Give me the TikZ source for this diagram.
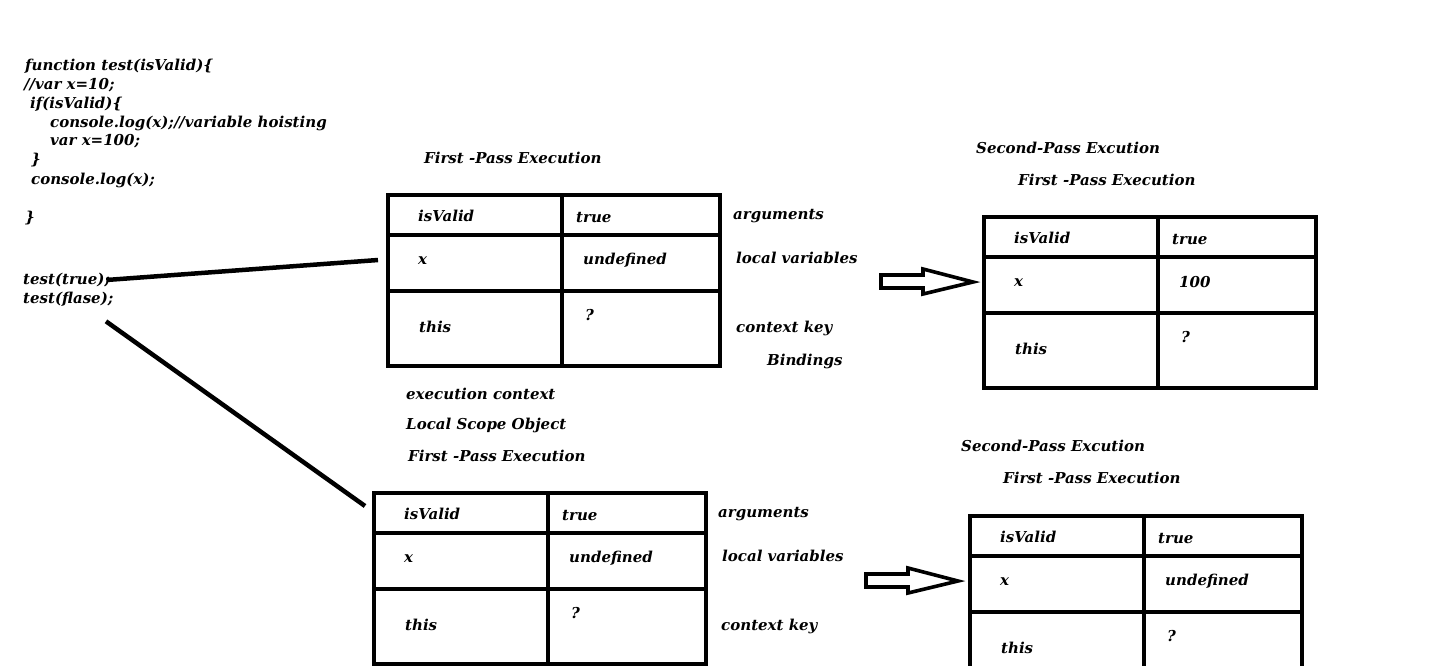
\documentclass[tikz,border=0pt]{standalone}
\usepackage{fontspec}
\setmainfont{DejaVu Serif}
\usetikzlibrary{calc}

\begin{document}
\begin{tikzpicture}[x=1pt,y=-1pt,
 font=\bfseries\itshape\fontsize{15}{18}\selectfont,
 txt/.style={anchor=west,inner sep=0pt},
 frm/.style={draw=black,line width=4.5pt},
 link/.style={line width=4.5pt,black},
 hollow/.style={draw=black,line width=3.6pt,fill=white,line join=miter}]
\useasboundingbox (0,0) rectangle (1448,665);
% code of the function
\node[txt] (fhead) at (25,66) {function test(isValid)\{};
\node[txt] (fvar) at (24,85) {//var x=10;};
\node[txt] (fif) at (30,104) {if(isValid)\{};
\node[txt] (flog) at (50,123) {console.log(x);//variable hoisting};
\node[txt] (fdecl) at (50,141) {var x=100;};
\node[txt] (fifend) at (31,160) {\}};
\node[txt] (flog2) at (31,180) {console.log(x);};
\node[txt] (fend) at (25,218) {\}};
\node[txt] (tcall) at (23,280) {test(true);};
\node[txt] (fcall) at (23,299) {test(flase);};
% the four scope tables
\foreach \nm/\tx/\ty/\val in {ta/388/195/undefined,tb/984/217/100,tc/374/493/undefined,td/970/516/undefined}{
 \begin{scope}[shift={(\tx,\ty)}]
 \draw[frm] (0,0) rectangle (332,171);
 \draw[frm] (174,0)--(174,171);
 \draw[frm] (0,40)--(332,40) (0,96)--(332,96);
 \node[txt] (\nm-key) at (30,21) {isValid};
 \node[txt] (\nm-arg) at (188,22) {true};
 \node[txt] (\nm-var) at (30,66) {x};
 \node[txt] (\nm-val) at (195,65) {\val};
 \node[txt] (\nm-this) at (31,132) {this};
 \node[txt] (\nm-ctx) at (197,120) {?};
 \coordinate (\nm-in) at (-10,65);
 \coordinate (\nm-top) at (-9,13);
 \end{scope}}
% headings
\node[txt] (h1) at (424,158) {First -Pass Execution};
\node[txt] (h2) at (976,148) {Second-Pass Excution};
\node[txt] (h3) at (1018,180) {First -Pass Execution};
\node[txt] (h4) at (406,394) {execution context};
\node[txt] (h5) at (406,425) {Local Scope Object};
\node[txt] (h6) at (408,456) {First -Pass Execution};
\node[txt] (h7) at (961,446) {Second-Pass Excution};
\node[txt] (h8) at (1003,478) {First -Pass Execution};
% side notes
\node[txt] (ta-n1) at (733,216) {arguments};
\node[txt] (ta-n2) at (736,258) {local variables};
\node[txt] (ta-n3) at (736,328) {context key};
\node[txt] (ta-n4) at (767,361) {Bindings};
\node[txt] (tc-n1) at (718,514) {arguments};
\node[txt] (tc-n2) at (722,556) {local variables};
\node[txt] (tc-n3) at (721,626) {context key};
% calls into the tables
\draw[link] ([xshift=-4pt]tcall.east)--(ta-in);
\draw[link] ($(fcall.south west)+(83,15)$)--(tc-top);
% hollow arrows
\foreach \ax/\ay in {973/282,958/581}{
 \draw[hollow,shift={(\ax,\ay)}] (-92,-7)--(-50,-7)--(-50,-13)--(0,0)--(-50,12)--(-50,6)--(-92,6)--cycle;}
\end{tikzpicture}
\end{document}
